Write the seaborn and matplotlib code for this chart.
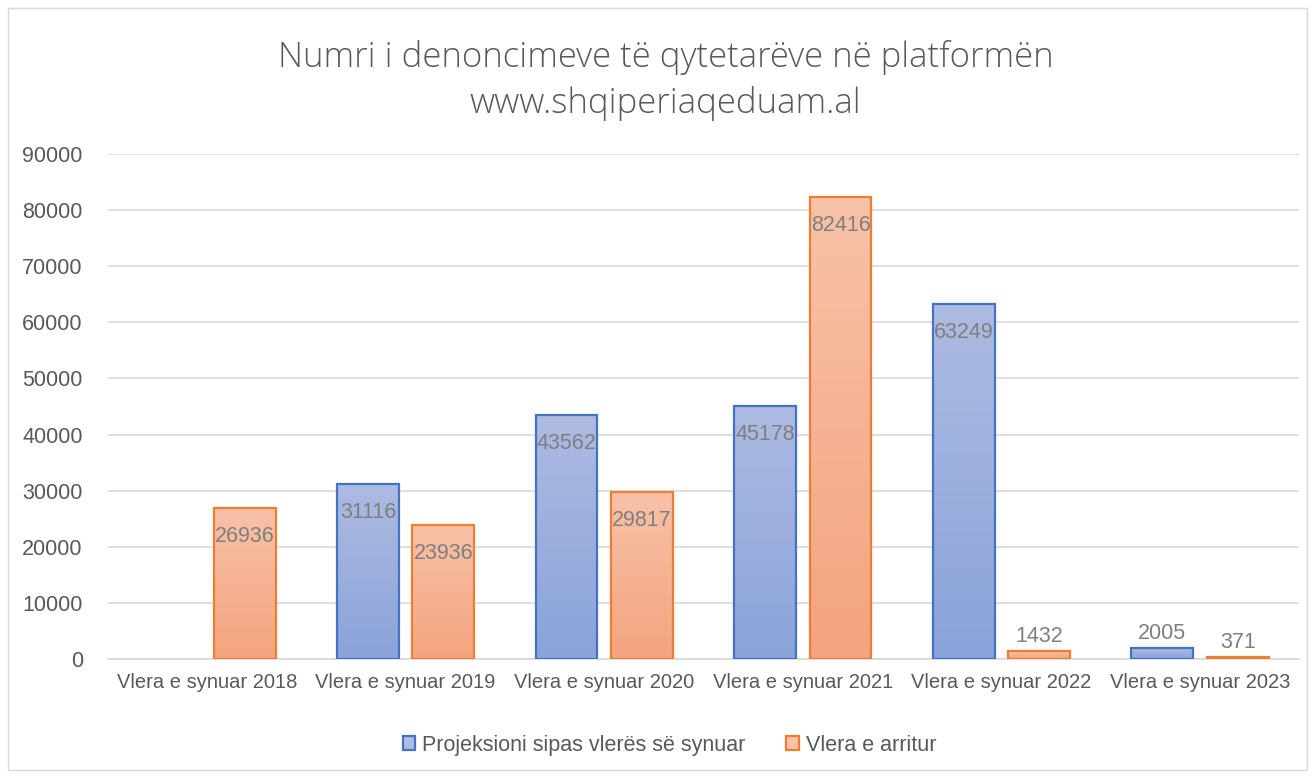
import numpy as np
import pandas as pd
import matplotlib
matplotlib.use("Agg")
import matplotlib.pyplot as plt
import seaborn as sns
from matplotlib.colors import LinearSegmentedColormap
from matplotlib.patches import Rectangle, Patch

# të dhënat
kategorite = ["Vlera e synuar 2018", "Vlera e synuar 2019", "Vlera e synuar 2020",
              "Vlera e synuar 2021", "Vlera e synuar 2022", "Vlera e synuar 2023"]
projeksioni = [np.nan, 31116, 43562, 45178, 63249, 2005]
arritur = [26936, 23936, 29817, 82416, 1432, 371]
seri = ["Projeksioni sipas vlerës së synuar", "Vlera e arritur"]
titulli = "Numri i denoncimeve të qytetarëve në platformën\nwww.shqiperiaqeduam.al"

df = pd.DataFrame({
    "kategoria": kategorite * 2,
    "seria": [seri[0]] * 6 + [seri[1]] * 6,
    "vlera": projeksioni + arritur,
}).dropna()

sns.set_theme(style="white")
plt.rcParams['font.family'] = ['Liberation Sans', 'DejaVu Sans']

ngjyra_kufi = {seri[0]: "#4472C4", seri[1]: "#ED7D31"}
gradient = {seri[0]: ["#AEBBE2", "#8AA3DA"], seri[1]: ["#F8C2A8", "#F4A47F"]}
gri = "#7F7F7F"

fig = plt.figure(figsize=(13.15, 7.78), dpi=100)
ax = fig.add_axes([0.082, 0.153, 0.906, 0.649])

sns.barplot(data=df, x="kategoria", y="vlera", hue="seria", order=kategorite,
            hue_order=seri, palette=ngjyra_kufi, width=0.76, gap=0.18,
            ax=ax, legend=False)

# mbushje me gradient dhe etiketat
for bars, s in zip(ax.containers, seri):
    cmap = LinearSegmentedColormap.from_list(s, gradient[s][::-1])
    for p in bars:
        h = p.get_height()
        if not np.isfinite(h) or h == 0:
            continue
        p.set_facecolor("none")
        p.set_edgecolor(ngjyra_kufi[s])
        p.set_linewidth(1.6)
        p.set_zorder(3)
        x0, w = p.get_x(), p.get_width()
        img = ax.imshow(np.linspace(0, 1, 100).reshape(-1, 1), cmap=cmap,
                        origin="lower", extent=[x0, x0 + w, 0, h],
                        aspect="auto", zorder=2)
        img.set_clip_path(p)
        cx = x0 + w / 2
        if h > 6000:
            ax.annotate(f"{int(h)}", (cx, h), xytext=(0, -13), textcoords="offset points",
                        ha="center", va="top", fontsize=15.5, color=gri, zorder=5)
        else:
            ax.annotate(f"{int(h)}", (cx, h), xytext=(0, 3), textcoords="offset points",
                        ha="center", va="bottom", fontsize=15.5, color=gri, zorder=5)

ax.set_ylim(0, 90000)
ax.set_xlim(-0.5, 5.5)
ax.set_yticks(range(0, 90001, 10000))
ax.yaxis.grid(True, color="#D9D9D9", linewidth=1.2)
ax.set_axisbelow(True)
for sp in ["top", "right", "left"]:
    ax.spines[sp].set_visible(False)
ax.spines["bottom"].set_color("#D9D9D9")
ax.spines["bottom"].set_linewidth(1.2)
ax.tick_params(axis="both", length=0, labelcolor="#595959")
ax.tick_params(axis="y", labelsize=15.5, pad=18)
ax.tick_params(axis="x", labelsize=14.5, pad=10)
ax.set_xlabel("")
ax.set_ylabel("")

fig.text(0.506, 0.897, titulli, ha="center", va="center", fontsize=25,
         color="#595959", linespacing=1.4, family=["Open Sans", "DejaVu Sans"],
         fontweight="light")

# legjenda
handles = [Patch(facecolor=gradient[s][0], edgecolor=ngjyra_kufi[s], linewidth=1.6, label=s)
           for s in seri]
leg = fig.legend(handles=handles, loc="center", bbox_to_anchor=(0.509, 0.042), ncol=2,
                 frameon=False, fontsize=15.5, handlelength=0.6, handleheight=0.6,
                 handletextpad=0.3, columnspacing=1.9)
for t in leg.get_texts():
    t.set_color("#595959")

# korniza
fig.patches.append(Rectangle((0.006, 0.01), 0.988, 0.98, transform=fig.transFigure,
                             fill=False, edgecolor="#D9D9D9", linewidth=1))

fig.savefig("out.png", dpi=100)
